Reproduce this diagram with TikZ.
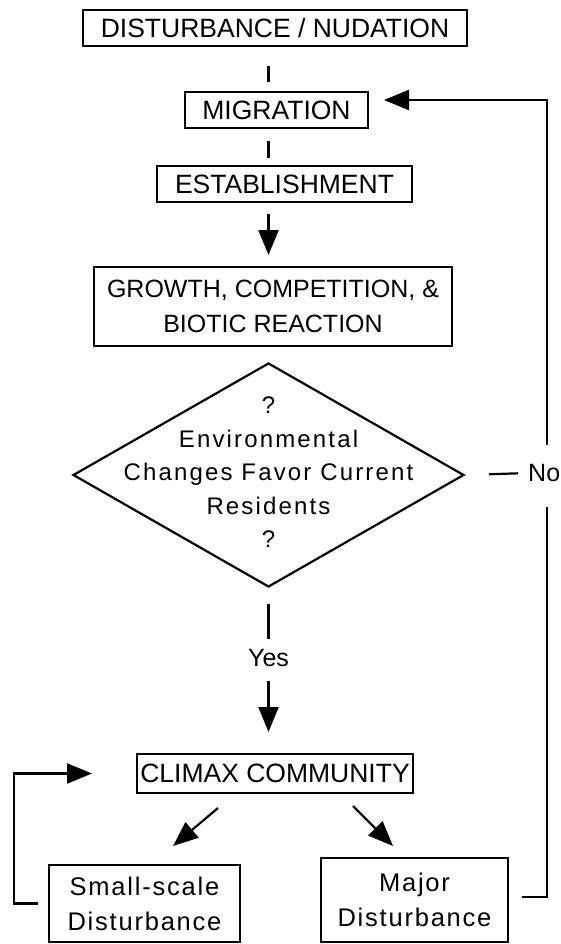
\documentclass[tikz,border=0pt]{standalone}
\usepackage{fontspec}
\setmainfont{Liberation Sans}
\newfontfamily\spacedfont[LetterSpace=7]{Liberation Sans}
\newfontfamily\diafont[LetterSpace=9]{Liberation Sans}
\usetikzlibrary{arrows.meta,shapes.geometric,calc}
\begin{document}
\begin{tikzpicture}[x=1pt,y=-1pt,
  box/.style={draw, line width=2pt, inner sep=0pt, align=center},
  conn/.style={line width=2.2pt},
  arr/.style={conn, -{Triangle[length=25pt,width=20pt]}},
  capfont/.style={font=\fontsize{26.5}{30}\selectfont},
  spfont/.style={font=\spacedfont\fontsize{25.5}{35}\selectfont},
  lblfont/.style={font=\fontsize{25}{28}\selectfont}]
\fill[white] (0,0) rectangle (561,944);
\useasboundingbox (0,0) rectangle (561,944);
\coordinate (spine) at (268.5,0);
\coordinate (rx) at (547,0);
\coordinate (lx) at (14,0);
% nodes
\node[box, capfont, minimum width=384pt, minimum height=36pt] (dist) at (275,28) {DISTURBANCE / NUDATION};
\node[box, capfont, minimum width=183pt, minimum height=36pt] (mig) at (276.5,110) {MIGRATION};
\node[box, capfont, minimum width=255pt, minimum height=36pt] (estab) at (284.5,184) {ESTABLISHMENT};
\node[box, font=\fontsize{25}{35}\selectfont, minimum width=358pt, minimum height=79pt] (growth) at (273,306.5) {GROWTH, COMPETITION, \&\\BIOTIC REACTION};
\node[diamond, draw, line width=2.2pt, minimum width=391pt, minimum height=224pt, inner sep=0pt] (dec) at (268.5,475) {};
\node[font=\diafont\fontsize{24}{33.5}\selectfont, align=center, inner sep=0pt] (dectext) at (268.5,472.5) {?\\Environmental\\Changes Favor Current\\Residents\\?};
\node[lblfont, inner sep=0pt] (yes) at (268.5,658) {Yes};
\node[lblfont, inner sep=0pt, anchor=west] (no) at (528,473) {No};
\node[box, capfont, minimum width=276pt, minimum height=39pt] (climax) at (275,773.5) {CLIMAX COMMUNITY};
\node[box, spfont, minimum width=191pt, minimum height=77pt] (small) at (144.5,903.5) {Small-scale\\Disturbance};
\node[box, spfont, minimum width=187pt, minimum height=84pt] (major) at (414.5,900) {Major\\Disturbance};
% connectors
\draw[conn, shorten <=19pt, shorten >=9pt] (spine |- dist.south) -- (spine |- mig.north);
\draw[conn, shorten <=12pt, shorten >=7pt] (spine |- mig.south) -- (spine |- estab.north);
\draw[arr, shorten <=11pt, shorten >=11pt] (spine |- estab.south) -- (spine |- growth.north);
\draw[conn, shorten <=16pt, shorten >=10pt] (dec.south) -- (yes.north);
\draw[arr, shorten <=14pt, shorten >=21pt] (yes.south) -- (spine |- climax.north);
\draw[conn, shorten <=24pt, shorten >=10pt] (dec.east) -- (no.west);
\coordinate (migin) at ([yshift=10pt]mig.east);
\draw[arr, shorten <=19pt, shorten >=15pt] (rx |- no.north) -- (rx |- migin) -- (migin);
\coordinate (majin) at ([yshift=3pt]major.east);
\draw[conn, shorten <=25pt, shorten >=13pt] (rx |- no.south) -- (rx |- majin) -- (majin);
\coordinate (c1) at ($(climax.south)+(-57,14)$);
\coordinate (s1) at ($(small.north)+(28.5,-18)$);
\draw[arr] (c1) -- (s1);
\coordinate (c2) at ($(climax.south)+(78,12)$);
\coordinate (m2) at ($(major.north)+(-21.5,-11)$);
\draw[arr] (c2) -- (m2);
\draw[arr, shorten <=10pt, shorten >=44pt] (small.west) -- (lx |- small.west) -- (lx |- climax.west) -- (climax.west);
\end{tikzpicture}
\end{document}
